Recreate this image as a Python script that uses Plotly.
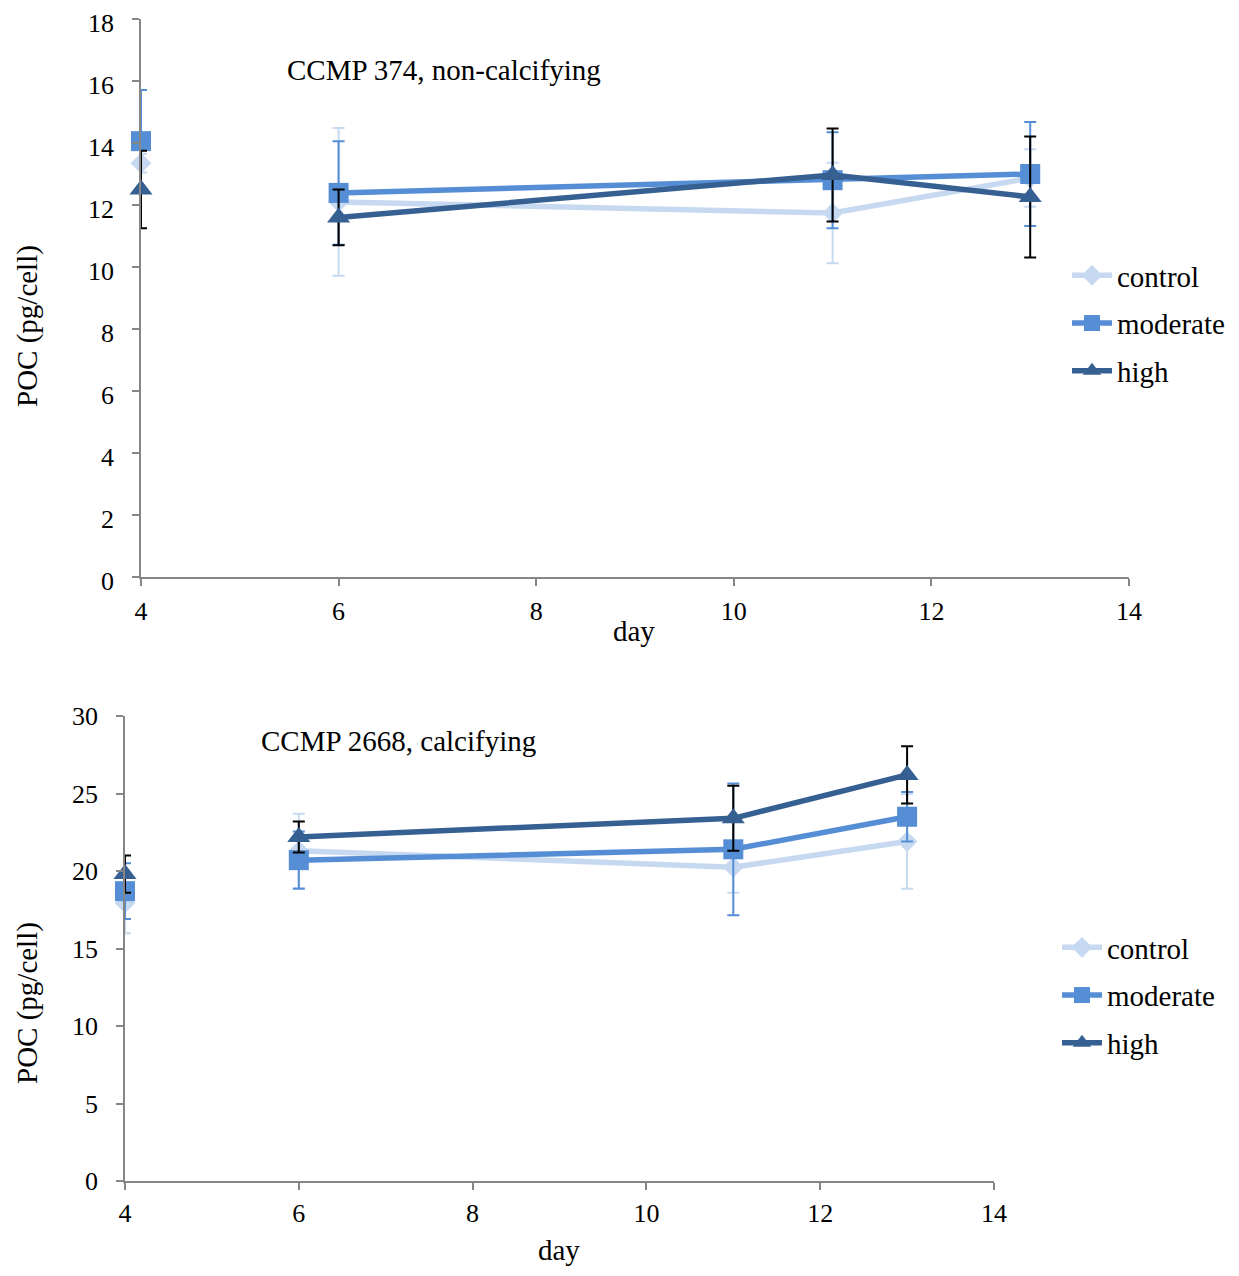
import plotly.graph_objects as go

# ---- data ----
# day 5 has no measurement: the line breaks between day 4 and day 6
days = [4, 5, 6, 11, 13]
series_names = ["control", "moderate", "high"]

# top panel: CCMP 374, non-calcifying
top_control = [13.35, None, 12.1, 11.74, 12.87]
top_control_err = [0.3, None, 2.38, 1.62, 0.93]
top_moderate = [14.06, None, 12.39, 12.8, 13.0]
top_moderate_err = [1.65, None, 1.67, 1.55, 1.68]
top_high = [12.5, None, 11.6, 12.97, 12.26]
top_high_err = [1.25, None, 0.9, 1.5, 1.95]

# bottom panel: CCMP 2668, calcifying
bot_control = [17.94, None, 21.3, 20.25, 21.9]
bot_control_err = [1.95, None, 2.4, 1.65, 3.05]
bot_moderate = [18.7, None, 20.7, 21.4, 23.5]
bot_moderate_err = [1.8, None, 1.85, 4.25, 1.6]
bot_high = [19.8, None, 22.2, 23.4, 26.2]
bot_high_err = [1.2, None, 1.0, 2.1, 1.85]

top_title = "CCMP 374, non-calcifying"
bot_title = "CCMP 2668, calcifying"
x_label = "day"
y_label = "POC (pg/cell)"

# ---- styles ----
FONT = "Liberation Serif, Times New Roman, serif"
TXT = 29
TICK = 26
colors = {"control": "#C6D9F1", "moderate": "#558ED5", "high": "#376092"}
err_colors = {"control": "#C6D9F1", "moderate": "#558ED5", "high": "#000000"}
symbols = {"control": "diamond", "moderate": "square", "high": "triangle-up"}
msizes = {"control": 16, "moderate": 20, "high": 20}

# page body has an 8px margin; the figure fills the rest of the 1239x1276 window
OFF = 8
W, H = 1239 - 2 * OFF, 1276 - 2 * OFF
fig = go.Figure()

panels = [
    ("x", "y", "legend", "top", [top_control, top_moderate, top_high],
     [top_control_err, top_moderate_err, top_high_err]),
    ("x2", "y2", "legend2", "bot", [bot_control, bot_moderate, bot_high],
     [bot_control_err, bot_moderate_err, bot_high_err]),
]

for xa, ya, lg, tag, vals, errs in panels:
    for name, v, e in zip(series_names, vals, errs):
        fig.add_trace(go.Scatter(
            x=days, y=v, name=name, xaxis=xa, yaxis=ya, legend=lg,
            legendgroup=f"{tag}_{name}",
            mode="lines+markers", cliponaxis=False, connectgaps=False,
            line=dict(color=colors[name], width=5.5),
            marker=dict(symbol=symbols[name], size=msizes[name], color=colors[name],
                        line=dict(width=0)),
            error_y=dict(type="data", array=e, visible=True,
                         color=err_colors[name], thickness=2, width=6),
        ))

axis_common = dict(
    showline=True, linecolor="#868686", linewidth=1.5,
    ticks="outside", tickcolor="#868686", ticklen=7, tickwidth=1.5,
    showgrid=False, zeroline=False, automargin=False,
    ticklabeloverflow="allow",
    tickfont=dict(family=FONT, size=TICK, color="black"),
)

def px_x(p):
    return (p - OFF) / W

def px_y(p):
    return 1 - (p - OFF) / H

legend_common = dict(xanchor="left", yanchor="top",
                     font=dict(family=FONT, size=TXT, color="black"),
                     tracegroupgap=7, bgcolor="rgba(0,0,0,0)", itemwidth=40)

fig.update_layout(
    width=W, height=H, margin=dict(l=0, r=0, t=0, b=0, autoexpand=False),
    paper_bgcolor="white", plot_bgcolor="white",
    font=dict(family=FONT, size=TXT, color="black"),
    xaxis=dict(domain=[px_x(141), px_x(1129)], range=[4, 14], dtick=2,
               anchor="y", ticklabelstandoff=3, **axis_common),
    yaxis=dict(domain=[px_y(577), px_y(19)], range=[0, 18], dtick=2,
               anchor="x", ticklabelstandoff=13, ticklabelshift=4, **axis_common),
    xaxis2=dict(domain=[px_x(125), px_x(994)], range=[4, 14], dtick=2,
                anchor="y2", ticklabelstandoff=1, **axis_common),
    yaxis2=dict(domain=[px_y(1181), px_y(716)], range=[0, 30], dtick=5,
                anchor="x2", ticklabelstandoff=13, **axis_common),
    legend=dict(x=px_x(1067), y=px_y(250), **legend_common),
    legend2=dict(x=px_x(1057), y=px_y(922), **legend_common),
    showlegend=True,
)

ann_font = dict(family=FONT, size=TXT, color="black")
fig.add_annotation(text=top_title, x=px_x(285), y=px_y(70), xref="paper", yref="paper",
                   xanchor="left", yanchor="middle", showarrow=False, font=ann_font)
fig.add_annotation(text=bot_title, x=px_x(259), y=px_y(741), xref="paper", yref="paper",
                   xanchor="left", yanchor="middle", showarrow=False, font=ann_font)
fig.add_annotation(text=x_label, x=px_x(634), y=px_y(631), xref="paper", yref="paper",
                   xanchor="center", yanchor="middle", showarrow=False, font=ann_font)
fig.add_annotation(text=x_label, x=px_x(559), y=px_y(1250), xref="paper", yref="paper",
                   xanchor="center", yanchor="middle", showarrow=False, font=ann_font)
fig.add_annotation(text=y_label, x=px_x(27), y=px_y(326), xref="paper", yref="paper",
                   xanchor="center", yanchor="middle", showarrow=False, textangle=-90,
                   font=ann_font)
fig.add_annotation(text=y_label, x=px_x(27), y=px_y(1003), xref="paper", yref="paper",
                   xanchor="center", yanchor="middle", showarrow=False, textangle=-90,
                   font=ann_font)

fig.write_html("out.html")
